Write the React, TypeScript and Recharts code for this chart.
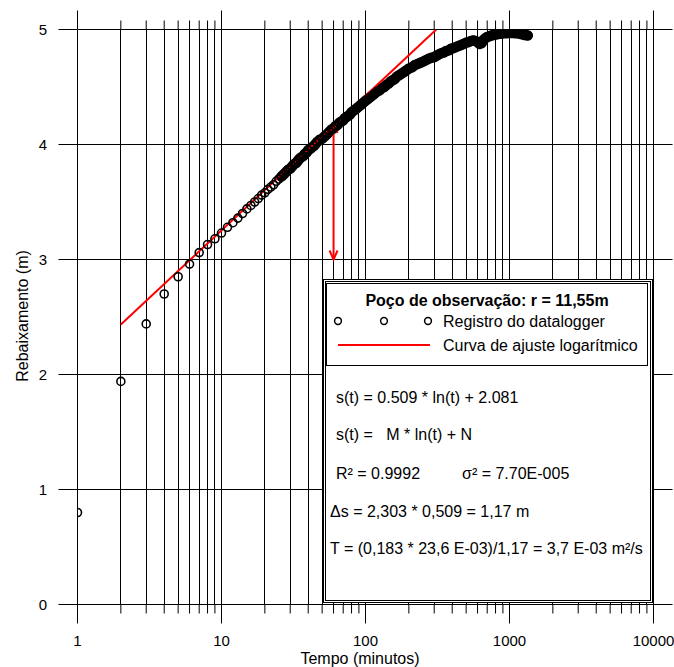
import React from 'react';
import {
  ComposedChart,
  Scatter,
  Line,
  XAxis,
  YAxis,
  CartesianGrid,
  ReferenceLine,
} from 'recharts';

const FONT = '"Liberation Sans", Arial, sans-serif';

// axis ticks
const xTicks = [
  1, 2, 3, 4, 5, 6, 7, 8, 9,
  10, 20, 30, 40, 50, 60, 70, 80, 90,
  100, 200, 300, 400, 500, 600, 700, 800, 900,
  1000, 2000, 3000, 4000, 5000, 6000, 7000, 8000, 9000,
  10000,
];
const xMajor = [1, 10, 100, 1000, 10000];
const yTicks = [0, 1, 2, 3, 4, 5];
const yHalfTicks = [0.5, 1.5, 2.5, 3.5, 4.5];

// datalogger record: time (min) and drawdown (m)
const obsTime = [
  1, 2, 3, 4, 5, 6, 7, 8, 9, 10,
  11, 12, 13, 14, 15, 16, 17, 18, 19, 20,
  21, 22, 23, 24, 25, 26, 27, 28, 29, 30,
  31, 32, 33, 34, 35, 36, 37, 38, 39, 40,
  42, 44, 46, 48, 50, 52, 54, 56, 58, 60,
  62, 64, 66, 68, 70, 72, 74, 76, 78, 80,
  82, 84, 86, 88, 90, 92, 94, 96, 98, 100,
  105, 110, 115, 120, 125, 130, 135, 140, 145, 150,
  155, 160, 165, 170, 175, 180, 185, 190, 195, 200,
  210, 220, 230, 240, 250, 260, 270, 280, 290, 300,
  310, 320, 330, 340, 350, 360, 370, 380, 390, 400,
  420, 440, 460, 480, 500, 520, 540, 560, 580, 600,
  620, 640, 660, 680, 700, 720, 740, 760, 780, 800,
  830, 860, 890, 920, 950, 980, 1010, 1040, 1070, 1100,
  1130, 1160, 1190, 1220, 1250, 1280, 1310, 1340,
];
const obsDrawdown = [
  0.8, 1.94, 2.44, 2.7, 2.85, 2.96, 3.06, 3.13, 3.18, 3.23,
  3.28, 3.32, 3.36, 3.4, 3.44, 3.47, 3.5, 3.53, 3.56, 3.58,
  3.61, 3.63, 3.65, 3.68, 3.7, 3.72, 3.74, 3.76, 3.78, 3.79,
  3.81, 3.83, 3.84, 3.86, 3.88, 3.89, 3.9, 3.92, 3.93, 3.95,
  3.97, 3.99, 4.02, 4.04, 4.05, 4.07, 4.09, 4.11, 4.13, 4.14,
  4.16, 4.17, 4.19, 4.2, 4.21, 4.23, 4.24, 4.25, 4.26, 4.28,
  4.29, 4.3, 4.31, 4.32, 4.33, 4.34, 4.35, 4.36, 4.37, 4.38,
  4.4, 4.42, 4.44, 4.46, 4.47, 4.49, 4.5, 4.52, 4.53, 4.55,
  4.56, 4.57, 4.59, 4.6, 4.61, 4.62, 4.63, 4.64, 4.65, 4.66,
  4.67, 4.69, 4.7, 4.71, 4.72, 4.73, 4.74, 4.75, 4.755, 4.76,
  4.77, 4.78, 4.79, 4.795, 4.8, 4.81, 4.815, 4.82, 4.83, 4.835,
  4.845, 4.855, 4.865, 4.875, 4.885, 4.89, 4.9, 4.905, 4.9, 4.89,
  4.875, 4.88, 4.91, 4.925, 4.935, 4.94, 4.945, 4.95, 4.953, 4.955,
  4.96, 4.962, 4.965, 4.967, 4.968, 4.97, 4.97, 4.97, 4.97, 4.968,
  4.968, 4.965, 4.962, 4.958, 4.955, 4.952, 4.95, 4.948,
];

// logarithmic fit s(t) = 0.509 ln(t) + 2.081, drawn between its end points
const fitTime = [2, 310];
const fitDrawdown = [2.434, 5.0];

// Δs arrow over one log cycle
const arrowTime = 60;
const arrowFrom = 3.0;
const arrowTo = 4.18;

// from here on the logger points sit so close they merge into a solid band
const bandStart = 26;

const obsData = obsTime.map((t, i) => ({ t, s: obsDrawdown[i] }));
const bandData = obsData.filter((d) => d.t >= bandStart);
const fitData = fitTime.map((t, i) => ({ t, s: fitDrawdown[i] }));

const PLOT_TOP = 29.5;
const PLOT_BOTTOM = 604.5;
const PLOT_LEFT = 77.5;
const PLOT_RIGHT = 653.5;

function XTick(props: any) {
  const { x, payload } = props;
  const v = payload.value;
  const major = xMajor.includes(v);
  const ext = major ? 19 : 9;
  return (
    <g>
      <line x1={x} x2={x} y1={PLOT_TOP - ext} y2={PLOT_TOP} stroke="#000" />
      <line x1={x} x2={x} y1={PLOT_BOTTOM} y2={PLOT_BOTTOM + ext} stroke="#000" />
      {major && (
        <text x={x} y={645.5} textAnchor="middle" fontFamily={FONT} fontSize={15} fill="#000">
          {v}
        </text>
      )}
    </g>
  );
}

function YTick(props: any) {
  const { y, payload } = props;
  return (
    <g>
      <line x1={PLOT_LEFT - 19} x2={PLOT_LEFT} y1={y} y2={y} stroke="#000" />
      <line x1={PLOT_RIGHT} x2={PLOT_RIGHT + 19} y1={y} y2={y} stroke="#000" />
      <text x={47} y={y + 5} textAnchor="end" fontFamily={FONT} fontSize={15} fill="#000">
        {payload.value}
      </text>
    </g>
  );
}

function YHalfTick(props: any) {
  const { y } = props;
  return (
    <g>
      <line x1={PLOT_LEFT - 10} x2={PLOT_LEFT} y1={y} y2={y} stroke="#000" />
      <line x1={PLOT_RIGHT} x2={PLOT_RIGHT + 10} y1={y} y2={y} stroke="#000" />
    </g>
  );
}

function Arrow(props: any) {
  const { x1, y1, x2, y2 } = props;
  const top = Math.min(y1, y2);
  const bottom = Math.max(y1, y2);
  return (
    <g stroke="#ff0000" strokeWidth={2} fill="none">
      <line x1={x1} x2={x2} y1={top} y2={bottom} />
      <polyline points={`${x1 - 4},${top + 9} ${x1},${top} ${x1 + 4},${top + 9}`} />
      <polyline points={`${x1 - 4},${bottom - 9} ${x1},${bottom} ${x1 + 4},${bottom - 9}`} />
    </g>
  );
}

const txt = { fontFamily: FONT, fontSize: 16, fill: '#000' } as const;

export default function App() {
  return (
    <div style={{ position: 'absolute', left: 0, top: 0, width: 674, height: 667, background: '#fff' }}>
      <ComposedChart
        width={674}
        height={667}
        margin={{ top: 29.5, right: 20.5, bottom: 0, left: 0.5 }}
      >
        <CartesianGrid stroke="#000" strokeWidth={1} shapeRendering="crispEdges" />
        <XAxis
          dataKey="t"
          type="number"
          scale="log"
          domain={[1, 10000]}
          ticks={xTicks}
          interval={0}
          allowDataOverflow
          axisLine={false}
          tickLine={false}
          height={62.5}
          tick={(p: any) => <XTick {...p} />}
        />
        <YAxis
          dataKey="s"
          type="number"
          domain={[0, 5]}
          ticks={yTicks}
          interval={0}
          allowDataOverflow
          axisLine={false}
          tickLine={false}
          width={77}
          tick={(p: any) => <YTick {...p} />}
        />
        <YAxis
          yAxisId="half"
          type="number"
          domain={[0, 5]}
          ticks={yHalfTicks}
          interval={0}
          axisLine={false}
          tickLine={false}
          width={0}
          tick={(p: any) => <YHalfTick {...p} />}
        />
        <Line
          data={bandData}
          dataKey="s"
          type="linear"
          stroke="#000"
          strokeWidth={10.5}
          strokeLinecap="round"
          strokeLinejoin="round"
          dot={false}
          isAnimationActive={false}
        />
        <Scatter
          data={obsData}
          dataKey="s"
          isAnimationActive={false}
          shape={(p: any) => (
            <circle cx={p.cx} cy={p.cy} r={4} fill="none" stroke="#000" strokeWidth={1.6} />
          )}
        />
        <Line
          data={fitData}
          dataKey="s"
          type="linear"
          stroke="#ff0000"
          strokeWidth={2}
          dot={false}
          isAnimationActive={false}
        />
        <ReferenceLine
          segment={[
            { x: arrowTime, y: arrowFrom },
            { x: arrowTime, y: arrowTo },
          ]}
          shape={(p: any) => <Arrow {...p} />}
        />
      </ComposedChart>

      <svg
        width={674}
        height={667}
        style={{ position: 'absolute', left: 0, top: 0, pointerEvents: 'none' }}
      >
        <text x={360} y={663.5} textAnchor="middle" {...txt}>
          Tempo (minutos)
        </text>
        <text x={28} y={316} textAnchor="middle" transform="rotate(-90 28 316)" {...txt}>
          Rebaixamento (m)
        </text>

        <rect x={323.5} y={279.5} width={329} height={323} fill="#fff" stroke="#000" />
        <rect x={325.5} y={281.5} width={325} height={319} fill="none" stroke="#000" />
        <rect x={326.5} y={283.5} width={321} height={82} fill="none" stroke="#000" />

        <text x={487} y={306} textAnchor="middle" {...txt} fontWeight="bold">
          Poço de observação: r = 11,55m
        </text>
        {[338, 384, 428].map((cx) => (
          <circle key={cx} cx={cx} cy={321} r={3.4} fill="none" stroke="#000" strokeWidth={1.5} />
        ))}
        <text x={443} y={327} {...txt}>Registro do datalogger</text>
        <line x1={338} x2={430} y1={345} y2={345} stroke="#ff0000" strokeWidth={2} />
        <text x={443} y={351} {...txt}>Curva de ajuste logarítmico</text>

        <text x={336} y={403} {...txt}>s(t) = 0.509 * ln(t) + 2.081</text>
        <text x={336} y={440} {...txt} style={{ whiteSpace: 'pre' }}>
          {'s(t) =   M * ln(t) + N'}
        </text>
        <text x={336} y={479} {...txt}>R² = 0.9992</text>
        <text x={462} y={479} {...txt}>σ² = 7.70E-005</text>
        <text x={330} y={517} {...txt}>Δs = 2,303 * 0,509 = 1,17 m</text>
        <text x={330} y={554} {...txt}>T = (0,183 * 23,6 E-03)/1,17 = 3,7 E-03 m²/s</text>
      </svg>
    </div>
  );
}
